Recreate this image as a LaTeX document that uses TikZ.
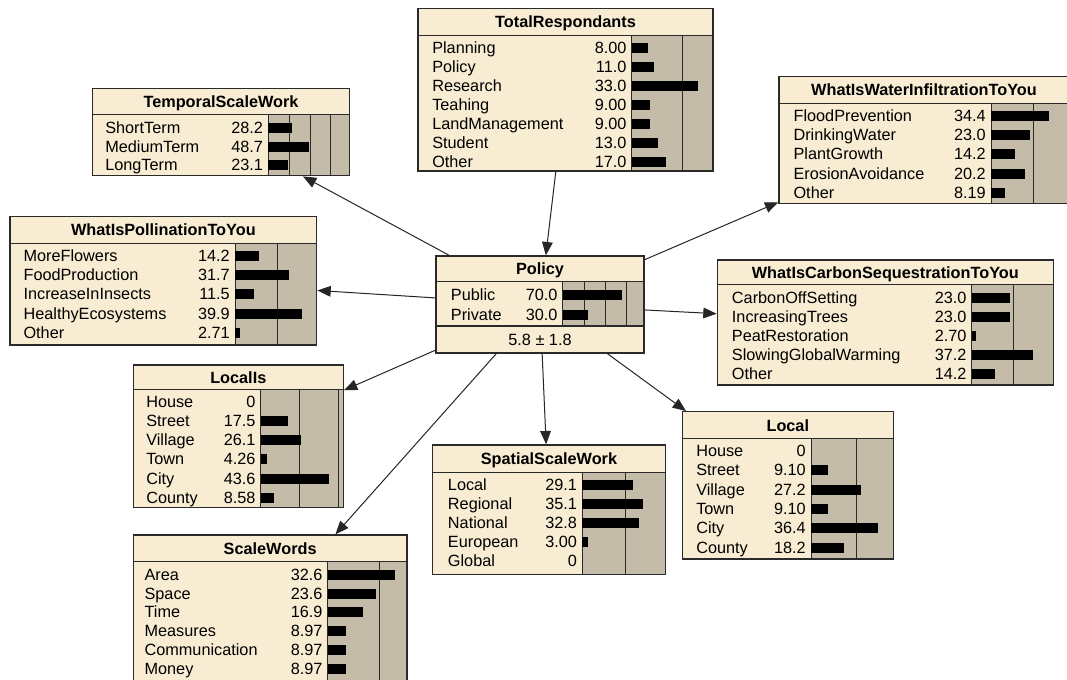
\documentclass[tikz,border=0pt]{standalone}
\usepackage{fontspec}
\setmainfont{Liberation Sans}
\usetikzlibrary{fit,arrows.meta}
\definecolor{bodyc}{HTML}{F8ECD2}
\definecolor{barc}{HTML}{C4BCA8}
\definecolor{edgec}{HTML}{2A2A2A}
\tikzset{
  txt/.style={inner sep=0pt, font=\fontsize{12.2}{14}\selectfont, text height=8.7pt, text depth=2pt, yshift=-1.1pt},
  lab/.style={txt, anchor=west},
  valt/.style={txt, anchor=east},
  ttl/.style={txt, font=\fontsize{12.2}{14}\selectfont\bfseries},
  gridl/.style={draw=edgec, line width=0.75pt},
  boxline/.style={draw=edgec, line width=1pt},
  conn/.style={draw=black!85, line width=0.75pt, -{Triangle[length=10pt,width=8pt]}},
}
% name, x0, y0, x1, ytitle, y1, barstart, scale, title
\newcommand\bnbox[9]{%
  \fill[bodyc] (#2,#3) rectangle (#4,#6);
  \fill[barc] (#7,#5) rectangle (#4,#6);
  \foreach \k in {25,50,75}{%
    \pgfmathsetmacro\gx{#7+\k*#8}%
    \ifdim\gx pt<#4pt \draw[gridl] (\gx,#5) -- (\gx,#6);\fi}
  \draw[gridl] (#7,#5) -- (#7,#6);
  \draw[gridl] (#2,#5) -- (#4,#5);
  \node[fit={(#2,#3) (#4,#6)}, inner sep=0pt, boxline] (#1) {};
  \node[ttl] (#1-title) at ({(#2+#4)/2},{(#3+#5)/2}) {#9};
}
% name, labelx, barstart, scale, firstrow y, pitch, list
\newcommand\bnrows[7]{%
  \foreach \lab/\val [count=\i] in {#7}{%
    \pgfmathsetmacro\ry{#5+(\i-1)*#6}%
    \fill[black] (#3,\ry-4.5) rectangle ({#3+\val*#4},\ry+5.5);
    \node[lab] (#1-l\i) at (#2,\ry) {\lab};
    \node[valt] (#1-v\i) at (#3-5,\ry) {\val};
  }}
\begin{document}
\begin{tikzpicture}[x=0.75pt,y=-0.75pt]
\useasboundingbox (0,0) rectangle (1067,680);
\clip (0,0) rectangle (1067,680);
\fill[white] (0,0) rectangle (1067,680);

% TotalRespondants
\bnbox{total}{418}{8.5}{713}{35.5}{171}{631.7}{2.02}{TotalRespondants}
\bnrows{total}{432}{631.7}{2.02}{47.3}{19.07}{Planning/8.00,Policy/11.0,Research/33.0,Teahing/9.00,LandManagement/9.00,Student/13.0,Other/17.0}

% TemporalScaleWork
\bnbox{temporal}{92.7}{88.3}{349.3}{115}{175.7}{268.3}{0.835}{TemporalScaleWork}
\bnrows{temporal}{105}{268.3}{0.835}{127.3}{18.85}{ShortTerm/28.2,MediumTerm/48.7,LongTerm/23.1}

% WhatIsPollinationToYou
\bnbox{pollin}{10}{216.7}{316.7}{243.3}{345}{235}{1.69}{WhatIsPollinationToYou}
\bnrows{pollin}{23.3}{235}{1.69}{255.7}{19.15}{MoreFlowers/14.2,FoodProduction/31.7,IncreaseInInsects/11.5,HealthyEcosystems/39.9,Other/2.71}

% LocalIs
\bnbox{localis}{133.3}{365}{343.3}{389.3}{507.7}{260.7}{1.56}{LocalIs}
\bnrows{localis}{146}{260.7}{1.56}{401.7}{19.1}{House/0,Street/17.5,Village/26.1,Town/4.26,City/43.6,County/8.58}

% ScaleWords
\bnbox{scalewords}{133.3}{535}{407}{561.7}{681}{327.7}{2.06}{ScaleWords}
\bnrows{scalewords}{144.3}{327.7}{2.06}{574.3}{18.8}{Area/32.6,Space/23.6,Time/16.9,Measures/8.97,Communication/8.97,Money/8.97}

% SpatialScaleWork
\bnbox{spatial}{432.3}{445}{665.7}{472.3}{574.3}{582.3}{1.74}{SpatialScaleWork}
\bnrows{spatial}{447.7}{582.3}{1.74}{484.3}{19.1}{Local/29.1,Regional/35.1,National/32.8,European/3.00,Global/0}

% Local
\bnbox{local}{682.3}{411.7}{893.3}{439}{559}{811}{1.83}{Local}
\bnrows{local}{696}{811}{1.83}{450.7}{19.3}{House/0,Street/9.10,Village/27.2,Town/9.10,City/36.4,County/18.2}

% WhatIsCarbonSequestrationToYou
\bnbox{carbon}{717.3}{260}{1053.3}{285}{385}{971.7}{1.66}{WhatIsCarbonSequestrationToYou}
\bnrows{carbon}{731.7}{971.7}{1.66}{297.7}{18.9}{CarbonOffSetting/23.0,IncreasingTrees/23.0,PeatRestoration/2.70,SlowingGlobalWarming/37.2,Other/14.2}

% WhatIsWaterInfiltrationToYou
\bnbox{water}{779}{76.7}{1069}{103.3}{203.3}{991}{1.69}{WhatIsWaterInfiltrationToYou}
\bnrows{water}{793.3}{991}{1.69}{115.7}{19.15}{FloodPrevention/34.4,DrinkingWater/23.0,PlantGrowth/14.2,ErosionAvoidance/20.2,Other/8.19}

% Policy
\fill[bodyc] (436,256) rectangle (644,353);
\bnbox{policytop}{436}{256}{644}{282}{326}{562.7}{0.853}{Policy}
\bnrows{policy}{450.7}{562.7}{0.853}{295}{19.3}{Public/70.0,Private/30.0}
\node[fit={(436,256) (644,353)}, inner sep=0pt, boxline] (policy) {};
\node[txt] (policy-mean) at (540,339.5) {5.8 ± 1.8};

% connectors
\draw[conn] (total) -- (policy);
\draw[conn] (policy) -- (temporal);
\draw[conn] (policy) -- (pollin);
\draw[conn] (policy) -- (water);
\draw[conn] (policy) -- (carbon);
\draw[conn] (policy) -- (localis);
\draw[conn] (policy) -- (scalewords);
\draw[conn] (policy) -- (spatial);
\draw[conn] (policy) -- (local);
\end{tikzpicture}
\end{document}
